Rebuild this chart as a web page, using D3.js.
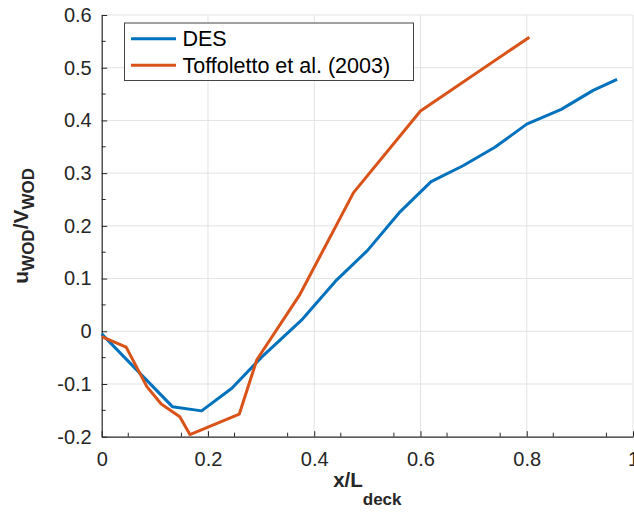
<!DOCTYPE html>
<html>
<head>
<meta charset="utf-8">
<script src="https://cdn.jsdelivr.net/npm/d3@7"></script>
<style>
  html, body { margin: 0; padding: 0; background: #fff; }
  svg { display: block; font-family: "Liberation Sans", Arial, Helvetica, sans-serif; }
</style>
</head>
<body>
<svg id="chart" width="634" height="512"></svg>
<script>
// Normalised deck position x/L_deck
const desX  = [0.0, 0.133, 0.188, 0.245, 0.30, 0.376, 0.44, 0.50, 0.56, 0.62, 0.68, 0.74, 0.80, 0.865, 0.925, 0.97];
// DES wind-over-deck velocity ratio
const desU  = [-0.005, -0.143, -0.151, -0.108, -0.05, 0.021, 0.095, 0.153, 0.225, 0.284, 0.314, 0.349, 0.393, 0.421, 0.457, 0.478];

// Toffoletto et al. (2003) measurements
const tofX  = [0.0, 0.046, 0.085, 0.112, 0.147, 0.166, 0.259, 0.292, 0.372, 0.474, 0.600, 0.805];
const tofU  = [-0.010, -0.030, -0.105, -0.138, -0.162, -0.196, -0.157, -0.054, 0.068, 0.263, 0.418, 0.558];

const seriesNames = ["DES", "Toffoletto et al. (2003)"];
const seriesColors = ["#0072BD", "#D95319"];

const xTicks = [0, 0.2, 0.4, 0.6, 0.8, 1];
const xTickLabels = ["0", "0.2", "0.4", "0.6", "0.8", "1"];
const yTicks = [-0.2, -0.1, 0, 0.1, 0.2, 0.3, 0.4, 0.5, 0.6];
const yTickLabels = ["-0.2", "-0.1", "0", "0.1", "0.2", "0.3", "0.4", "0.5", "0.6"];

const svg = d3.select("#chart");
const plotLeft = 101.7, plotRight = 633, plotTop = 15, plotBottom = 436.7;
const axisColor = "#262626";

const x = d3.scaleLinear().domain([0, 1]).range([plotLeft, plotRight]);
const y = d3.scaleLinear().domain([-0.2, 0.6]).range([plotBottom, plotTop]);

// grid
const grid = svg.append("g").attr("stroke", "#e3e3e3").attr("stroke-width", 1);
grid.selectAll("line.gx").data(xTicks.slice(1)).join("line").attr("class", "gx")
  .attr("x1", d => x(d)).attr("x2", d => x(d)).attr("y1", plotTop).attr("y2", plotBottom);
grid.selectAll("line.gy").data(yTicks.slice(1)).join("line").attr("class", "gy")
  .attr("y1", d => y(d)).attr("y2", d => y(d)).attr("x1", plotLeft).attr("x2", plotRight);

// minor ticks
const xMinor = d3.range(0.05, 1, 0.1);
const yMinor = d3.range(-0.15, 0.6, 0.1);

// x axis
const gx = svg.append("g").attr("transform", `translate(0,${plotBottom})`)
  .call(d3.axisBottom(x).tickValues(xTicks).tickFormat((d, i) => xTickLabels[i]).tickSizeInner(-5.5).tickSizeOuter(0));
gx.select(".domain").attr("stroke", axisColor).attr("stroke-width", 1.2);
gx.selectAll(".tick line").attr("stroke", axisColor);
gx.selectAll(".tick text").attr("fill", axisColor).attr("font-size", 20).attr("dy", "0.71em").attr("y", 15)
  .attr("font-family", "Liberation Sans, Arial, sans-serif");
gx.selectAll("line.minor").data(xMinor).join("line").attr("class", "minor")
  .attr("x1", d => x(d)).attr("x2", d => x(d)).attr("y1", 0).attr("y2", -4)
  .attr("stroke", axisColor);

// y axis
const gy = svg.append("g").attr("transform", `translate(${plotLeft},0)`)
  .call(d3.axisLeft(y).tickValues(yTicks).tickFormat((d, i) => yTickLabels[i]).tickSizeInner(-5.5).tickSizeOuter(0));
gy.select(".domain").attr("stroke", axisColor).attr("stroke-width", 1.2);
gy.selectAll(".tick line").attr("stroke", axisColor);
gy.selectAll(".tick text").attr("fill", axisColor).attr("font-size", 20).attr("x", -10)
  .attr("font-family", "Liberation Sans, Arial, sans-serif");
gy.selectAll("line.minor").data(yMinor).join("line").attr("class", "minor")
  .attr("y1", d => y(d)).attr("y2", d => y(d)).attr("x1", 0).attr("x2", 4)
  .attr("stroke", axisColor);

// data lines
const line = d3.line().x(d => x(d[0])).y(d => y(d[1]));
const series = [d3.zip(desX, desU), d3.zip(tofX, tofU)];
svg.append("g").selectAll("path").data(series).join("path")
  .attr("d", line).attr("fill", "none")
  .attr("stroke", (d, i) => seriesColors[i]).attr("stroke-width", 3)
  .attr("stroke-linejoin", "round");

// legend
const lg = svg.append("g");
lg.append("rect").attr("x", 124.5).attr("y", 23).attr("width", 289).attr("height", 57.5)
  .attr("fill", "#fff").attr("stroke", "#444").attr("stroke-width", 1);
seriesNames.forEach((name, i) => {
  const cy = 38.7 + i * 26.6;
  lg.append("line").attr("x1", 131).attr("x2", 176).attr("y1", cy).attr("y2", cy)
    .attr("stroke", seriesColors[i]).attr("stroke-width", 3);
  lg.append("text").attr("x", 182.5).attr("y", cy).attr("dy", "0.36em")
    .attr("font-size", 21.5).attr("fill", "#000").text(name);
});

// x label
const xl = svg.append("text").attr("x", (plotLeft + plotRight) / 2).attr("y", 487).attr("text-anchor", "middle")
  .attr("font-weight", "bold").attr("fill", axisColor).attr("font-size", 20.5);
xl.append("tspan").text("x/L");
xl.append("tspan").attr("font-size", 17).attr("dy", 18).text("deck");

// y label
const yl = svg.append("text").attr("transform", `translate(28,${(plotTop + plotBottom) / 2}) rotate(-90)`)
  .attr("text-anchor", "middle").attr("font-weight", "bold").attr("fill", axisColor).attr("font-size", 21);
yl.append("tspan").text("u");
yl.append("tspan").attr("font-size", 17).attr("dy", 6).text("WOD");
yl.append("tspan").attr("dy", -6).text("/V");
yl.append("tspan").attr("font-size", 17).attr("dy", 6).text("WOD");
</script>
</body>
</html>
